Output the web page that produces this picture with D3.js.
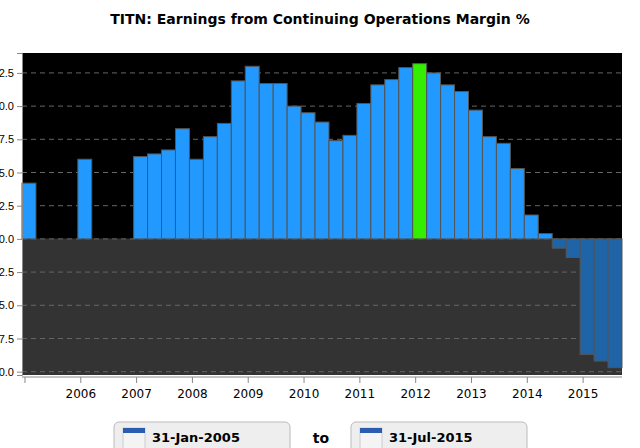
<!DOCTYPE html>
<html><head><meta charset="utf-8">
<script src="https://cdn.jsdelivr.net/npm/d3@7"></script>
<style>body{margin:0;background:#fff;font-family:"DejaVu Sans",sans-serif}</style>
</head><body>
<svg id="c" width="640" height="448"></svg>
<script>
var values = [4.2,0,0,0,6.0,0,0,0,6.2,6.4,6.7,8.3,6.0,7.7,8.7,11.9,13.0,11.7,11.7,10.0,9.5,8.8,7.4,7.8,10.2,11.6,12.0,12.9,13.2,12.5,11.6,11.1,9.7,7.7,7.2,5.3,1.8,0.4,-0.7,-1.4,-8.7,-9.2,-9.7];
var years = [2006,2007,2008,2009,2010,2011,2012,2013,2014,2015];
var yTicks = [-10,-7.5,-5,-2.5,0,2.5,5,7.5,10,12.5];
var highlight = 28;

var m = {t:53,r:18,b:73,l:22},
    w = 640 - m.l - m.r, h = 448 - m.t - m.b;
var svg = d3.select('#c');
svg.append('text').attr('x',320).attr('y',24).attr('text-anchor','middle')
  .style('font-weight','bold').style('font-size','14px').text('TITN: Earnings from Continuing Operations Margin %');

var plot = svg.append('g').attr('transform','translate('+m.l+','+m.t+')');
var x = d3.scaleBand().domain(d3.range(values.length)).range([0,w]).padding(0);
var y = d3.scaleLinear().domain([-10.25,14]).range([h,0]);
var qw = x.bandwidth();

plot.append('rect').attr('width',w).attr('height',y(0)).attr('fill','#000');
plot.append('rect').attr('y',y(0)).attr('width',w).attr('height',h-y(0)).attr('fill','#333');

plot.selectAll('.g').data(yTicks).enter().append('line')
  .attr('x1',0).attr('x2',w).attr('y1',function(d){return y(d);}).attr('y2',function(d){return y(d);})
  .attr('stroke','#666').attr('stroke-dasharray','5,4');

plot.selectAll('.bar').data(values).enter().append('rect')
  .attr('x',function(d,i){return x(i);})
  .attr('width',qw)
  .attr('y',function(d){return y(Math.max(0,d));})
  .attr('height',function(d){return Math.abs(y(d)-y(0));})
  .attr('fill',function(d,i){return i===highlight?'#33ee00':(d<0?'#1f64a6':'#2299ff');})
  .attr('stroke','#555').attr('stroke-width',1);

var yAxis = plot.append('g').call(d3.axisLeft(y).tickValues(yTicks).tickSize(5).tickFormat(d3.format('.1f')));
yAxis.selectAll('text').style('font-size','11px').attr('fill','#000');
yAxis.select('.domain').attr('stroke','#888');
yAxis.selectAll('line').attr('stroke','#888');

var xg = plot.append('g').attr('transform','translate(0,'+(h+2)+')');
xg.append('line').attr('x1',0).attr('x2',w).attr('stroke','#888');
var yx = function(yr){return x(0) + (yr-2005)*4*qw - 4;};
xg.selectAll('.t').data([2005].concat(years)).enter().append('line')
  .attr('x1',function(d){return yx(d)+qw/2;}).attr('x2',function(d){return yx(d)+qw/2;})
  .attr('y1',0).attr('y2',6).attr('stroke','#888');
xg.selectAll('.l').data(years).enter().append('text')
  .attr('x',function(d){return yx(d)+qw/2;}).attr('y',21).attr('text-anchor','middle')
  .style('font-size','12px').text(function(d){return d;});

function dateBox(x0,label){
  var g = svg.append('g').attr('transform','translate('+x0+',422)');
  g.append('rect').attr('width',176).attr('height',36).attr('rx',5).attr('fill','#eee').attr('stroke','#bbb');
  g.append('rect').attr('x',9).attr('y',6).attr('width',22).attr('height',22).attr('fill','#f4f4f4').attr('stroke','#ccc');
  g.append('rect').attr('x',9).attr('y',6).attr('width',22).attr('height',5).attr('fill','#2a5db0');
  g.append('text').attr('x',38).attr('y',20).style('font-size','13px').style('font-weight','bold').text(label);
}
dateBox(114,'31-Jan-2005');
dateBox(351,'31-Jul-2015');
svg.append('text').attr('x',321).attr('y',443).attr('text-anchor','middle').style('font-size','14px').style('font-weight','bold').text('to');
</script>
</body></html>
